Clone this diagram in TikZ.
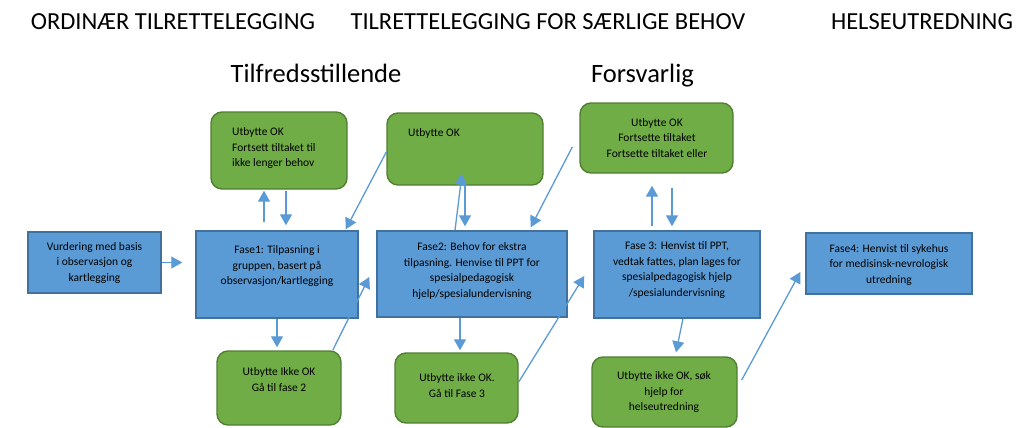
\documentclass[tikz,border=0pt]{standalone}
\usepackage{xcolor}
\usepackage{fontspec}
\setmainfont{Carlito}
\usepackage{tikz}
\usetikzlibrary{arrows.meta}

\definecolor{boxblue}{HTML}{5B9BD5}
\definecolor{edgeblue}{HTML}{41719C}
\definecolor{boxgreen}{HTML}{70AD47}
\definecolor{edgegreen}{HTML}{507E32}

\tikzset{
  fase/.style={draw=edgeblue,fill=boxblue,line width=1.4pt,rectangle,inner sep=0pt},
  utbytte/.style={draw=edgegreen,fill=boxgreen,line width=1.4pt,rectangle,rounded corners=11pt,inner sep=0pt},
  boxtext/.style={font=\fontsize{11.5}{15.5}\selectfont,align=center,inner sep=0pt},
  heading/.style={font=\fontsize{24.5}{28}\selectfont,anchor=base,inner sep=0pt},
  subheading/.style={font=\fontsize{26.5}{30}\selectfont,anchor=base,inner sep=0pt},
  arr/.style={-{Triangle[width=12pt,length=11pt]},draw=boxblue,line width=1.3pt}
}

\begin{document}
\begin{tikzpicture}[x=1pt,y=-1pt]
\useasboundingbox (0,0) rectangle (1023,428);
\node[heading] (ordinaer) at (173,30) {ORDINÆR TILRETTELEGGING};
\node[heading] (saerlige) at (548,30) {TILRETTELEGGING FOR SÆRLIGE BEHOV};
\node[heading] (helse) at (922,30) {HELSEUTREDNING};
\node[subheading] (tilfreds) at (316,83) {Tilfredsstillende};
\node[subheading] (forsvarlig) at (642.5,83) {Forsvarlig};

\node[fase,minimum width=133pt,minimum height=61pt] (vurd) at (94.5,262.5) {};
\node[fase,minimum width=162pt,minimum height=87pt] (f1) at (277,274.5) {};
\node[fase,minimum width=190pt,minimum height=86pt] (f2) at (472,274) {};
\node[fase,minimum width=166pt,minimum height=87pt] (f3) at (677,274.5) {};
\node[fase,minimum width=166pt,minimum height=61pt] (f4) at (889,263.5) {};

\node[utbytte,minimum width=136pt,minimum height=77pt] (ok1) at (279,150.5) {};
\node[utbytte,minimum width=156pt,minimum height=72pt] (ok2) at (465,149) {};
\node[utbytte,minimum width=153pt,minimum height=70pt] (ok3) at (656.5,138) {};
\node[utbytte,minimum width=124pt,minimum height=74pt] (ikke1) at (279,388) {};
\node[utbytte,minimum width=123pt,minimum height=70pt] (ikke2) at (456.5,388) {};
\node[utbytte,minimum width=145pt,minimum height=70pt] (ikke3) at (664.5,392) {};

\node[boxtext] (vurdtxt) at (vurd.center) {Vurdering med basis\\i observasjon og\\kartlegging};
\node[boxtext] (f1txt) at ([yshift=8.5pt]f1.center) {Fase1: Tilpasning i\\gruppen, basert på\\observasjon/kartlegging};
\node[boxtext] (f2txt) at ([yshift=3pt]f2.center) {Fase2: Behov for ekstra\\tilpasning. Henvise til PPT for\\spesialpedagogisk\\hjelp/spesialundervisning};
\node[boxtext] (f3txt) at ([yshift=4.5pt]f3.center) {Fase 3: Henvist til PPT,\\vedtak fattes, plan lages for\\spesialpedagogisk hjelp\\/spesialundervisning};
\node[boxtext] (f4txt) at ([yshift=-1pt]f4.center) {Fase4: Henvist til sykehus\\for medisinsk-nevrologisk\\utredning};
\node[boxtext,align=left,anchor=west] (ok1txt) at (232,148) {Utbytte OK\\Fortsett tiltaket til\\ikke lenger behov};
\node[boxtext,anchor=west] (ok2txt) at (408,133) {Utbytte OK};
\node[boxtext] (ok3txt) at (657,138) {Utbytte OK\\Fortsette tiltaket\\Fortsette tiltaket eller};
\node[boxtext] (ikke1txt) at (279,379.5) {Utbytte Ikke OK\\Gå til fase 2};
\node[boxtext] (ikke2txt) at (457,385.5) {Utbytte ikke OK.\\Gå til Fase 3};
\node[boxtext] (ikke3txt) at (664,392) {Utbytte ikke OK, søk\\hjelp for\\helseutredning};

\draw[arr,shorten >=13pt] (vurd.east) -- (vurd.east -| f1.west);
\draw[arr,shorten <=8pt,shorten >=1pt] ([xshift=-13pt]f1.north) -- ([xshift=-13pt]f1.north |- ok1.south);
\draw[arr,shorten <=1pt,shorten >=5pt] ([xshift=9pt]f1.north |- ok1.south) -- ([xshift=9pt]f1.north);
\draw[arr,shorten >=3pt] (f1.south) -- (f1.south |- ikke1.north);
\draw[arr] ([xshift=-9pt]ikke1.north east) -- ([xshift=-7pt,yshift=-3pt]f2.west);
\draw[arr] ([yshift=-3pt]ok2.west) -- ([xshift=-13pt,yshift=1pt]f1.north east);
\draw[arr] ([xshift=-17pt]f2.north) -- ([xshift=-3pt,yshift=12pt]ok2.south);
\draw[arr] ([yshift=3pt]ok2.south) -- ([xshift=-7pt,yshift=4pt]f2.north);
\draw[arr] ([xshift=-12pt]f2.south) -- ([xshift=3.5pt,yshift=2pt]ikke2.north);
\draw[arr] ([yshift=6pt]ikke2.east) -- ([xshift=-9pt,yshift=-1.5pt]f3.west);
\draw[arr] ([xshift=-7pt,yshift=-9pt]ok3.west) -- ([xshift=-37pt,yshift=3pt]f2.north east);
\draw[arr] ([xshift=-25pt,yshift=4pt]f3.north) -- ([xshift=-4.5pt,yshift=-12pt]ok3.south);
\draw[arr] ([xshift=15.5pt,yshift=-14pt]ok3.south) -- ([xshift=-5pt,yshift=4pt]f3.north);
\draw[arr] ([xshift=6pt]f3.south) -- ([xshift=11.5pt,yshift=4pt]ikke3.north);
\draw[arr] ([xshift=4pt,yshift=12pt]ikke3.east) -- ([xshift=-5pt,yshift=-8.5pt]f4.west);
\end{tikzpicture}
\end{document}
